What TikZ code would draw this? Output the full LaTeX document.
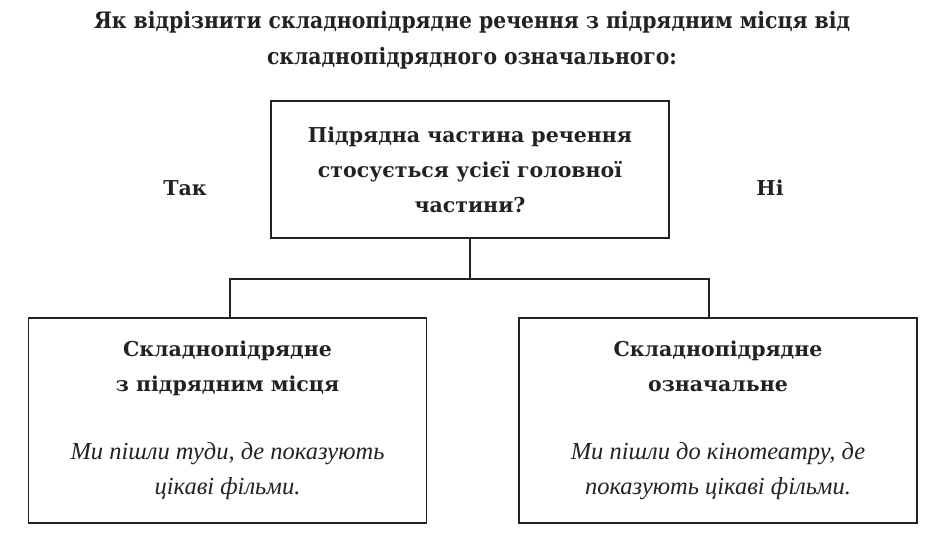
\documentclass[tikz,border=0pt]{standalone}
\usepackage{fontspec}
\setmainfont{DejaVu Serif}
\newfontfamily\headfont{DejaVu Serif Condensed}
\newfontfamily\examplefont{Liberation Serif}
\usetikzlibrary{positioning}
\definecolor{ink}{HTML}{222222}

\begin{document}
\begin{tikzpicture}[x=1pt, y=-1pt,
    every node/.style={text=ink, align=center, inner sep=0pt},
    headline/.style={font=\headfont\bfseries\fontsize{22.6}{36}\selectfont},
    box/.style={draw=ink, line width=1.5pt, minimum width=398pt,
        font=\fontsize{20.5}{35}\selectfont},
    answer/.style={font=\bfseries\fontsize{20.5}{24}\selectfont},
    link/.style={draw=ink, line width=1.5pt}]
    \useasboundingbox (0,0) rectangle (940,548);

    % Заголовок
    \node[headline] (head) at (472,40)
        {Як відрізнити складнопідрядне речення з підрядним місця від\\
         складнопідрядного означального:};

    % Питання
    \node[box, minimum height=137pt] (question) at (470,169.5)
        {\bfseries Підрядна частина речення\\
         \bfseries стосується усієї головної\\
         \bfseries частини?};
    \node[answer] (yes) at (185,188) {Так};
    \node[answer] (no) at (770,188) {Ні};

    % Відповіді
    \node[box, minimum height=205pt] (place) at (227.5,420.5)
        {\bfseries Складнопідрядне\\
         \bfseries з підрядним місця\\[33pt]
         \examplefont\itshape\fontsize{24.5}{35}\selectfont Ми пішли туди, де показують\\
         \examplefont\itshape\fontsize{24.5}{35}\selectfont цікаві фільми.};
    \node[box, minimum height=205pt] (attr) at (718,420.5)
        {\bfseries Складнопідрядне\\
         \bfseries означальне\\[33pt]
         \examplefont\itshape\fontsize{24.5}{35}\selectfont Ми пішли до кінотеатру, де\\
         \examplefont\itshape\fontsize{24.5}{35}\selectfont показують цікаві фільми.};

    % З'єднання
    \draw[link] (question.south) -- ++(0,40) coordinate (fork);
    \draw[link] (fork) -| ([xshift=2.5pt]place.north);
    \draw[link] (fork) -| ([xshift=-9pt]attr.north);
\end{tikzpicture}
\end{document}
